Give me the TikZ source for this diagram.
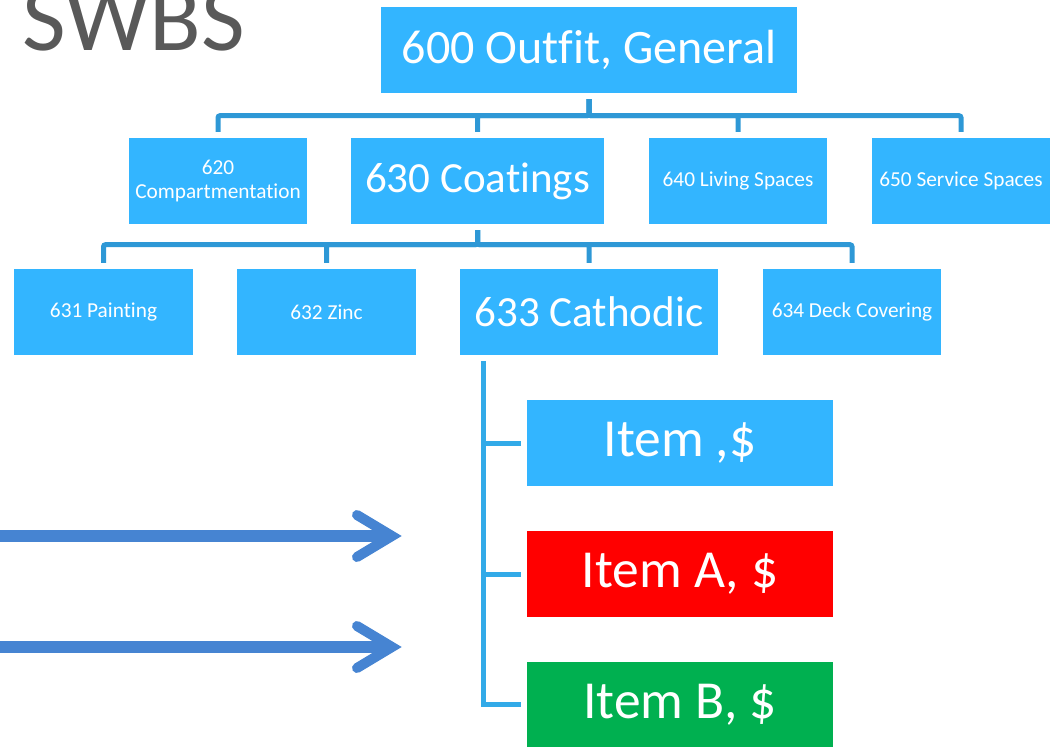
\documentclass[tikz,border=0pt]{standalone}
\usepackage{fontspec}
\setmainfont[Ligatures={NoCommon}]{Carlito}
\usetikzlibrary{calc}
\definecolor{boxblue}{RGB}{51,181,255}
\definecolor{treeblue}{RGB}{46,152,214}
\definecolor{itemline}{RGB}{50,170,232}
\definecolor{arrowblue}{RGB}{70,132,210}
\definecolor{itemred}{RGB}{255,0,0}
\definecolor{itemgreen}{RGB}{0,176,80}
\definecolor{titlegray}{RGB}{89,89,89}
\tikzset{
  box/.style={fill=boxblue, text=white, inner sep=0pt, minimum height=86pt, align=center},
  smalltxt/.style={font=\fontsize{21.3}{24}\selectfont},
  bigtxt/.style={font=\fontsize{43}{48}\selectfont},
  itemtxt/.style={font=\fontsize{53.5}{60}\selectfont},
  tree/.style={draw=treeblue, line width=5pt, rounded corners=2pt, shorten <=6pt, shorten >=6pt},
  itree/.style={draw=itemline, line width=5pt, shorten <=6pt, shorten >=6pt},
  shaft/.style={draw=arrowblue, line width=12pt},
  chevron/.style={draw=arrowblue, line width=10pt, line cap=round, line join=miter}
}
\begin{document}
\begin{tikzpicture}[x=1pt,y=-1pt]
\useasboundingbox (0,0) rectangle (1057,749);
% title
\node[anchor=base west, inner sep=0pt, text=titlegray, font=\fontsize{95}{100}\selectfont] (title) at (22,51) {SWBS};
% level 0
\node[box, minimum width=416pt, font=\fontsize{48}{54}\selectfont] (n600) at (589,50) {600 Outfit, General};
% level 1
\node[box, smalltxt, minimum width=178pt] (n620) at (218,181) {620\\Compartmentation};
\node[box, bigtxt, minimum width=253pt] (n630) at (477.5,181) {630 Coatings};
\node[box, smalltxt, minimum width=178pt] (n640) at (738,181) {640 Living Spaces};
\node[box, smalltxt, minimum width=178pt] (n650) at (961,181) {650 Service Spaces};
% level 2
\node[box, smalltxt, minimum width=179pt] (n631) at (103.5,312) {631 Painting};
\node[box, smalltxt, minimum width=179pt] (n632) at (326.5,312) {632 Zinc};
\node[box, bigtxt, minimum width=258pt] (n633) at (589,312) {633 Cathodic};
\node[box, smalltxt, minimum width=178pt] (n634) at (852,312) {634 Deck Covering};
% items
\node[box, itemtxt, minimum width=306pt] (itemC) at (680,443) {Item ,\$};
\node[box, itemtxt, minimum width=306pt, fill=itemred] (itemA) at (680,574) {Item A, \$};
\node[box, itemtxt, minimum width=306pt, minimum height=85pt, fill=itemgreen] (itemB) at (680,704.5) {Item B, \$};
% tree connectors level 1
\foreach \c in {n620,n630,n640,n650}
  \draw[tree] (n600.south) -- ++(0,22.5) -| (\c.north);
% tree connectors level 2
\foreach \c in {n631,n632,n633,n634}
  \draw[tree] (n630.south) -- ++(0,20.5) -| (\c.north);
% items connectors
\coordinate (trunk) at ($(n633.south west)+(24,0)$);
\foreach \c in {itemC,itemA,itemB}
  \draw[itree] (trunk) |- (\c.west);
% arrows
\coordinate (a1s) at (0,536);
\coordinate (a1e) at (392,536);
\coordinate (a2s) at (0,647);
\coordinate (a2e) at (392,647);
\draw[shaft] (a1s) -- (a1e);
\draw[chevron] ($(a1e)+(-35,-21)$) -- (a1e) -- ($(a1e)+(-35,21)$);
\draw[shaft] (a2s) -- (a2e);
\draw[chevron] ($(a2e)+(-35,-21)$) -- (a2e) -- ($(a2e)+(-35,21)$);
\end{tikzpicture}
\end{document}
